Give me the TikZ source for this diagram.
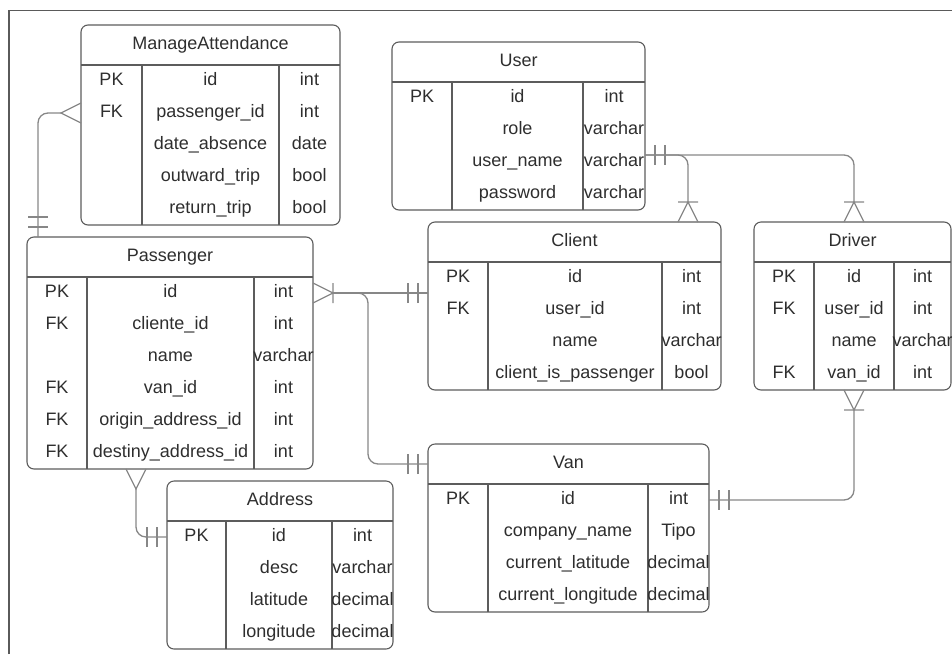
\documentclass[tikz,border=0pt]{standalone}
\usepackage{fontspec}
\setmainfont{Liberation Sans}
\usetikzlibrary{calc, positioning}
\definecolor{ink}{HTML}{2e2e2e}
\definecolor{edge}{HTML}{5c5c5c}
\definecolor{wire}{HTML}{878787}
\definecolor{frame}{HTML}{5a5a5a}

\tikzset{
  tbl/.style={draw=edge, line width=1.1pt, rounded corners=7pt, inner sep=0pt, outer sep=0pt},
  grid/.style={draw=edge, line width=1.1pt},
  cell/.style={anchor=base, inner sep=0pt, text=ink, font=\fontsize{18}{20}\selectfont},
  conn/.style={draw=wire, line width=1.3pt, rounded corners=10pt},
  many/.pic={\draw[wire, line width=1.3pt] (0,-10) -- (20,0) -- (0,10);},
  onemany/.pic={\draw[wire, line width=1.3pt] (0,-10) -- (20,0) -- (0,10) (20,-10) -- (20,10);},
  oneone/.pic={\draw[wire, line width=1.3pt] (10,-10) -- (10,10) (20,-10) -- (20,10);},
}

% name, left, top, col1, col2, right, rows, title, fields
\newcommand{\ertable}[9]{%
  \node[tbl, anchor=north west, minimum width={(#6-#2)*1pt}, minimum height={(40+32*#7)*1pt}] (#1) at (#2,#3) {};
  \draw[grid] (#2,#3+40) -- (#6,#3+40)
    (#4,#3+40) -- (#4,#3+40+32*#7)
    (#5,#3+40) -- (#5,#3+40+32*#7);
  \node[cell] (#1-t) at ({(#2+#6)/2},#3+24) {#8};
  \foreach \kk/\fld/\typ [count=\i] in {#9} {
    \coordinate (#1-w\i) at (#2,#3+24+32*\i);
    \coordinate (#1-e\i) at (#6,#3+24+32*\i);
    \node[cell] (#1-k\i) at ({(#2+#4)/2},#3+28.5+32*\i) {\kk};
    \node[cell] (#1-f\i) at ({(#4+#5)/2},#3+28.5+32*\i) {\fld};
    \node[cell] (#1-y\i) at ({(#5+#6)/2},#3+28.5+32*\i) {\typ};
  }%
}

\begin{document}
\begin{tikzpicture}[x=1pt, y=-1pt]
  \useasboundingbox (0,0) rectangle (952,654);
  \draw[frame, line width=1.8pt] (9,654) -- (9,10.5) -- (952,10.5);

  \ertable{ma}{81}{25}{142}{279}{340}{5}{ManageAttendance}{PK/id/int, FK/passenger\_id/int, {}/date\_absence/date, {}/outward\_trip/bool, {}/return\_trip/bool}
  \ertable{user}{392}{42}{452}{583}{645}{4}{User}{PK/id/int, {}/role/varchar, {}/user\_name/varchar, {}/password/varchar}
  \ertable{pass}{27}{237}{87}{254}{313}{6}{Passenger}{PK/id/int, FK/cliente\_id/int, {}/name/varchar, FK/van\_id/int, FK/origin\_address\_id/int, FK/destiny\_address\_id/int}
  \ertable{client}{428}{222}{488}{662}{721}{4}{Client}{PK/id/int, FK/user\_id/int, {}/name/varchar, {}/client\_is\_passenger/bool}
  \ertable{driver}{754}{222}{814}{894}{951}{4}{Driver}{PK/id/int, FK/user\_id/int, {}/name/varchar, FK/van\_id/int}
  \ertable{van}{428}{444}{488}{648}{709}{4}{Van}{PK/id/int, {}/company\_name/Tipo, {}/current\_latitude/decimal, {}/current\_longitude/decimal}
  \ertable{addr}{167}{481}{226}{332}{393}{4}{Address}{PK/id/int, {}/desc/varchar, {}/latitude/decimal, {}/longitude/decimal}

  \draw[conn] ($(pass.north west)+(11,0)$) |- ($(ma-w2)+(-19,0)$);
  \pic[rotate=180] at (ma-w2) {many};
  \pic[rotate=90] at ($(pass.north west)+(11,0)$) {oneone};

  \coordinate (uout) at ($(user-e3)+(0,-7)$);
  \draw[conn] (uout) -| ($(client.north west)+(260,-20)$);
  \draw[conn] (uout) -| ($(driver.north west)+(100,-20)$);
  \pic at (uout) {oneone};
  \pic[rotate=90] at ($(client.north west)+(260,0)$) {onemany};
  \pic[rotate=90] at ($(driver.north west)+(100,0)$) {onemany};

  \draw[conn] ($(pass-e1)+(20,0)$) -- (client.west |- pass-e1);
  \draw[conn] ($(pass-e1)+(20,0)$) -| ($(van.north west)+(-60,20)$) -- ($(van.north west)+(0,20)$);
  \pic at (pass-e1) {onemany};
  \pic[rotate=180] at (client.west |- pass-e1) {oneone};
  \pic[rotate=180] at ($(van.north west)+(0,20)$) {oneone};

  \draw[conn] ($(pass.south west)+(109,20)$) |- (addr-w1);
  \pic[rotate=-90] at ($(pass.south west)+(109,0)$) {many};
  \pic[rotate=180] at (addr-w1) {oneone};

  \draw[conn] (van-e1) -| ($(driver.south west)+(100,20)$);
  \pic at (van-e1) {oneone};
  \pic[rotate=-90] at ($(driver.south west)+(100,0)$) {onemany};
\end{tikzpicture}
\end{document}
